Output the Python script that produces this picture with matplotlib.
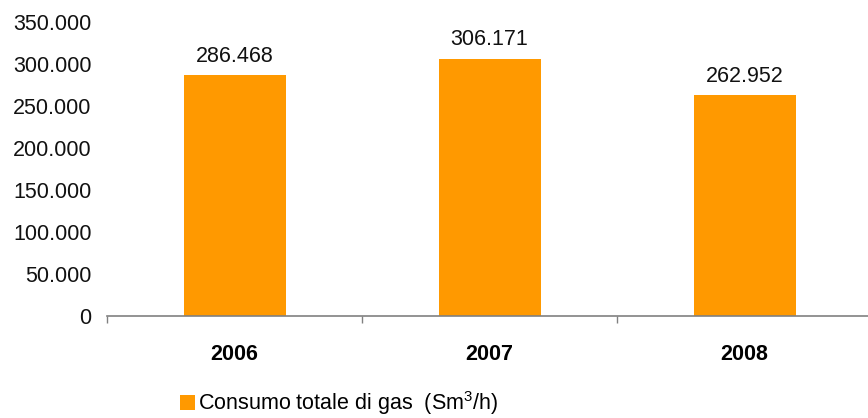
import matplotlib
matplotlib.use("Agg")
import matplotlib.pyplot as plt
from matplotlib.patches import Patch

years = ["2006", "2007", "2008"]
consumo = [286468, 306171, 262952]
value_labels = ["286.468", "306.171", "262.952"]
y_ticks = [0, 50000, 100000, 150000, 200000, 250000, 300000, 350000]
y_tick_labels = ["0", "50.000", "100.000", "150.000", "200.000", "250.000", "300.000", "350.000"]
series_name = "Consumo totale di gas  (Sm$^3$/h)"

plt.rcParams['font.family'] = ['Liberation Sans', 'DejaVu Sans']
plt.rcParams['mathtext.fontset'] = 'custom'
plt.rcParams['mathtext.rm'] = 'Liberation Sans'
plt.rcParams['mathtext.it'] = 'Liberation Sans:italic'

orange = "#FF9900"
gray = "#808080"
fs = 15.5

fig = plt.figure(figsize=(8.68, 4.18), dpi=100)
ax = fig.add_axes([107 / 868, 1 - 316 / 418, 765 / 868, 294 / 418])

x = list(range(len(years)))
ax.bar(x, consumo, width=0.40, color=orange, zorder=2)
for xi, v, lab in zip(x, consumo, value_labels):
    ax.text(xi, v + 10000, lab, ha="center", va="bottom", fontsize=fs, color="#111111")

ax.set_xlim(-0.5, 2.5)
ax.set_ylim(0, 350000)
ax.set_yticks(y_ticks)
ax.set_yticklabels(y_tick_labels, fontsize=fs, color="#111111")
ax.tick_params(axis="y", length=0, pad=11)

ax.set_xticks(x)
ax.set_xticklabels(years, fontsize=fs, fontweight="bold", color="#000000")
ax.set_xticks([-0.5, 0.5, 1.5, 2.5], minor=True)
ax.tick_params(axis="x", which="major", length=0, pad=20)
ax.tick_params(axis="x", which="minor", length=5, width=1, color=gray, direction="out")

for side in ["top", "right", "left"]:
    ax.spines[side].set_visible(False)
ax.spines["bottom"].set_color(gray)
ax.spines["bottom"].set_linewidth(1.2)
ax.spines["bottom"].set_zorder(3)

handle = Patch(facecolor=orange, edgecolor="none")
fig.legend([handle], [series_name], loc="center left",
           bbox_to_anchor=(171 / 868, 1 - 403 / 418), frameon=False,
           fontsize=fs, handlelength=0.7, handleheight=0.7,
           handletextpad=0.15, borderaxespad=0)

fig.savefig("out.png", dpi=100)
